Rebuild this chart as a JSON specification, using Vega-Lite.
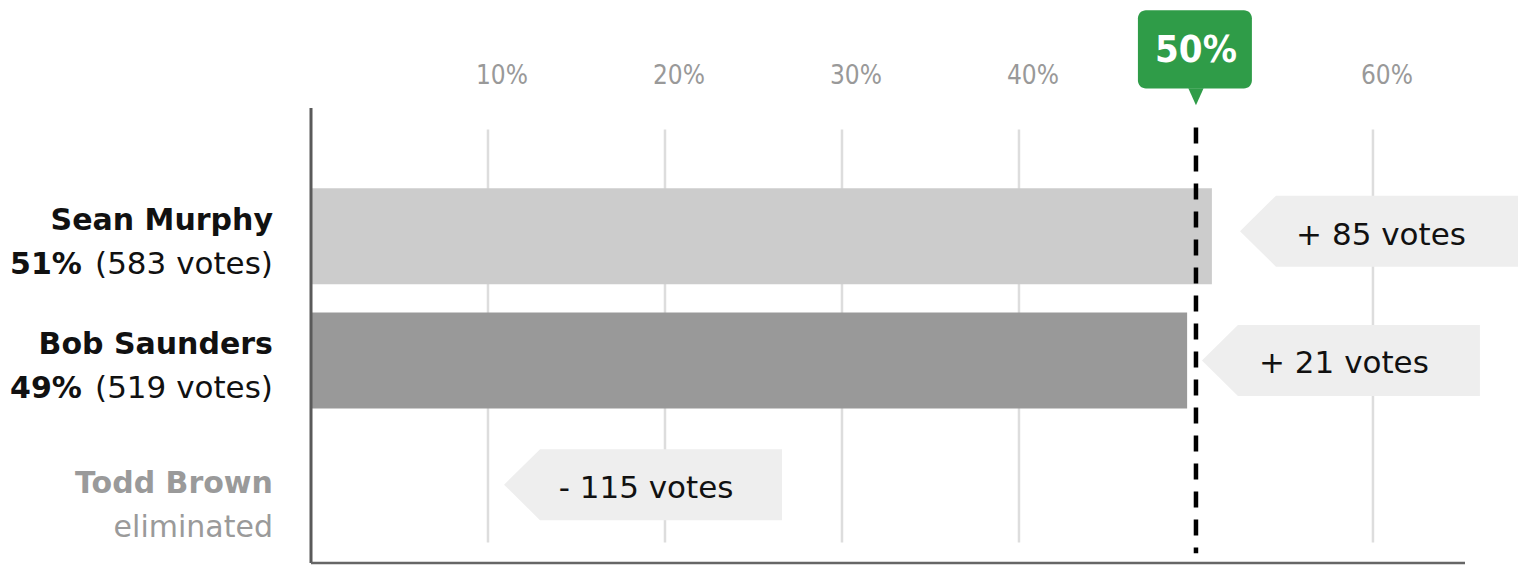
{
  "$schema": "https://vega.github.io/schema/vega-lite/v6.json",
  "width": 1154,
  "height": 465,
  "autosize": {"type": "none"},
  "padding": {"left": 311, "top": 103, "right": 53, "bottom": 3},
  "background": "white",
  "config": {"view": {"stroke": null}, "text": {"font": "DejaVu Sans"}},
  "datasets": {
    "candidates": [
      {"candidate": "Sean Murphy", "row": 1, "pct": 50.9, "pct_label": "51%", "votes": "(583 votes)", "change": "+ 85 votes", "note_at": 60.34, "status": "leader"},
      {"candidate": "Bob Saunders", "row": 2, "pct": 49.5, "pct_label": "49%", "votes": "(519 votes)", "change": "+ 21 votes", "note_at": 58.19, "status": "leader"},
      {"candidate": "Todd Brown", "row": 3, "pct": null, "pct_label": "", "votes": "eliminated", "change": "- 115 votes", "note_at": 18.76, "status": "eliminated"}
    ],
    "grid": [{"pct": 10, "label": "10%"}, {"pct": 20, "label": "20%"}, {"pct": 30, "label": "30%"}, {"pct": 40, "label": "40%"}, {"pct": 60, "label": "60%"}],
    "threshold": [{"pct": 50, "label": "50%"}]
  },
  "layer": [
    {
      "data": {"name": "grid"},
      "mark": {"type": "rule", "color": "#dddddd", "strokeWidth": 2.5},
      "encoding": {
        "x": {"field": "pct", "type": "quantitative", "scale": {"domain": [0, 65.2], "nice": false, "zero": false}, "axis": null},
        "y": {"datum": 0.1417, "type": "quantitative", "scale": {"domain": [-0.0315, 3.63], "reverse": true, "nice": false, "zero": false}, "axis": null},
        "y2": {"datum": 3.4645}
      }
    },
    {
      "data": {"name": "grid"},
      "mark": {"type": "text", "font": "DejaVu Sans Condensed", "fontSize": 26, "color": "#999999", "align": "center", "baseline": "alphabetic", "dx": 14},
      "encoding": {
        "x": {"field": "pct", "type": "quantitative", "axis": null},
        "y": {"datum": -0.228, "type": "quantitative", "axis": null},
        "text": {"field": "label"}
      }
    },
    {
      "data": {"name": "candidates"},
      "transform": [{"filter": "datum.pct != null"}],
      "mark": {"type": "bar", "orient": "horizontal", "size": 96},
      "encoding": {
        "x": {"field": "pct", "type": "quantitative", "axis": null},
        "x2": {"datum": 0},
        "y": {"field": "row", "type": "quantitative", "axis": null},
        "color": {"field": "candidate", "type": "nominal", "scale": {"domain": ["Sean Murphy", "Bob Saunders"], "range": ["#cccccc", "#999999"]}, "legend": null}
      }
    },
    {
      "data": {"name": "candidates"},
      "transform": [{"filter": "datum.row == 1"}],
      "mark": {"type": "point", "shape": "M-1,0 L-0.741,-0.2554 L1,-0.2554 L1,0.2554 L-0.741,0.2554 Z", "filled": true, "size": 77284, "color": "#eeeeee", "opacity": 1, "strokeWidth": 0, "yOffset": -5},
      "encoding": {
        "x": {"field": "note_at", "type": "quantitative", "axis": null},
        "y": {"field": "row", "type": "quantitative", "axis": null}
      }
    },
    {
      "data": {"name": "candidates"},
      "transform": [{"filter": "datum.row != 1"}],
      "mark": {"type": "point", "shape": "M-1,0 L-0.741,-0.2554 L1,-0.2554 L1,0.2554 L-0.741,0.2554 Z", "filled": true, "size": 77284, "color": "#eeeeee", "opacity": 1, "strokeWidth": 0},
      "encoding": {
        "x": {"field": "note_at", "type": "quantitative", "axis": null},
        "y": {"field": "row", "type": "quantitative", "axis": null}
      }
    },
    {
      "data": {"name": "candidates"},
      "transform": [{"filter": "datum.row == 1"}],
      "mark": {"type": "text", "fontSize": 31, "color": "#111111", "align": "center", "baseline": "alphabetic", "dx": 2, "dy": 9},
      "encoding": {
        "x": {"field": "note_at", "type": "quantitative", "axis": null},
        "y": {"field": "row", "type": "quantitative", "axis": null},
        "text": {"field": "change"}
      }
    },
    {
      "data": {"name": "candidates"},
      "transform": [{"filter": "datum.row != 1"}],
      "mark": {"type": "text", "fontSize": 31, "color": "#111111", "align": "center", "baseline": "alphabetic", "dx": 3, "dy": 13},
      "encoding": {
        "x": {"field": "note_at", "type": "quantitative", "axis": null},
        "y": {"field": "row", "type": "quantitative", "axis": null},
        "text": {"field": "change"}
      }
    },
    {
      "data": {"name": "threshold"},
      "mark": {"type": "rule", "color": "#000000", "strokeWidth": 4.5, "strokeDash": [16, 12]},
      "encoding": {
        "x": {"field": "pct", "type": "quantitative", "axis": null},
        "y": {"datum": 0.126, "type": "quantitative", "axis": null},
        "y2": {"datum": 3.551}
      }
    },
    {
      "data": {"name": "threshold"},
      "mark": {"type": "rule", "color": "#5a5a5a", "strokeWidth": 3},
      "encoding": {
        "x": {"datum": 0, "type": "quantitative", "axis": null},
        "y": {"datum": -0.0315, "type": "quantitative", "axis": null},
        "y2": {"datum": 3.63}
      }
    },
    {
      "data": {"name": "threshold"},
      "mark": {"type": "rule", "color": "#666666", "strokeWidth": 2.5},
      "encoding": {
        "x": {"datum": 0, "type": "quantitative", "axis": null},
        "x2": {"datum": 65.2},
        "y": {"datum": 3.63, "type": "quantitative", "axis": null}
      }
    },
    {
      "data": {"name": "candidates"},
      "transform": [{"filter": "datum.status == 'leader'"}],
      "mark": {"type": "text", "fontSize": 30, "fontWeight": "bold", "color": "#111111", "align": "right", "baseline": "alphabetic", "dy": -6},
      "encoding": {
        "x": {"datum": -2.15, "type": "quantitative", "axis": null},
        "y": {"field": "row", "type": "quantitative", "axis": null},
        "text": {"field": "candidate"}
      }
    },
    {
      "data": {"name": "candidates"},
      "transform": [{"filter": "datum.status == 'leader'"}],
      "mark": {"type": "text", "fontSize": 30, "fontWeight": "bold", "color": "#111111", "align": "left", "baseline": "alphabetic", "dy": 38},
      "encoding": {
        "x": {"datum": -17.0, "type": "quantitative", "axis": null},
        "y": {"field": "row", "type": "quantitative", "axis": null},
        "text": {"field": "pct_label"}
      }
    },
    {
      "data": {"name": "candidates"},
      "transform": [{"filter": "datum.status == 'leader'"}],
      "mark": {"type": "text", "fontSize": 31, "color": "#111111", "align": "right", "baseline": "alphabetic", "dy": 38},
      "encoding": {
        "x": {"datum": -2.15, "type": "quantitative", "axis": null},
        "y": {"field": "row", "type": "quantitative", "axis": null},
        "text": {"field": "votes"}
      }
    },
    {
      "data": {"name": "candidates"},
      "transform": [{"filter": "datum.status == 'eliminated'"}],
      "mark": {"type": "text", "fontSize": 30, "fontWeight": "bold", "color": "#9a9a9a", "align": "right", "baseline": "alphabetic", "dy": 8},
      "encoding": {
        "x": {"datum": -2.15, "type": "quantitative", "axis": null},
        "y": {"field": "row", "type": "quantitative", "axis": null},
        "text": {"field": "candidate"}
      }
    },
    {
      "data": {"name": "candidates"},
      "transform": [{"filter": "datum.status == 'eliminated'"}],
      "mark": {"type": "text", "fontSize": 30, "color": "#9a9a9a", "align": "right", "baseline": "alphabetic", "dy": 52},
      "encoding": {
        "x": {"datum": -2.15, "type": "quantitative", "axis": null},
        "y": {"field": "row", "type": "quantitative", "axis": null},
        "text": {"field": "votes"}
      }
    },
    {
      "data": {"name": "threshold"},
      "mark": {"type": "rect", "color": "#2f9c48", "cornerRadius": 8},
      "encoding": {
        "x": {"datum": 46.72, "type": "quantitative", "axis": null},
        "x2": {"datum": 53.16},
        "y": {"datum": -0.819, "type": "quantitative", "axis": null},
        "y2": {"datum": -0.189}
      }
    },
    {
      "data": {"name": "threshold"},
      "mark": {"type": "point", "shape": "M-0.9,-1 L0.9,-1 L0,1 Z", "filled": true, "size": 289, "color": "#2f9c48", "opacity": 1, "strokeWidth": 0},
      "encoding": {
        "x": {"field": "pct", "type": "quantitative", "axis": null},
        "y": {"datum": -0.122, "type": "quantitative", "axis": null}
      }
    },
    {
      "data": {"name": "threshold"},
      "mark": {"type": "text", "font": "DejaVu Sans Condensed", "fontWeight": "bold", "fontSize": 38, "color": "#ffffff", "align": "center", "baseline": "middle", "dy": 1},
      "encoding": {
        "x": {"field": "pct", "type": "quantitative", "axis": null},
        "y": {"datum": -0.496, "type": "quantitative", "axis": null},
        "text": {"field": "label"}
      }
    }
  ]
}
